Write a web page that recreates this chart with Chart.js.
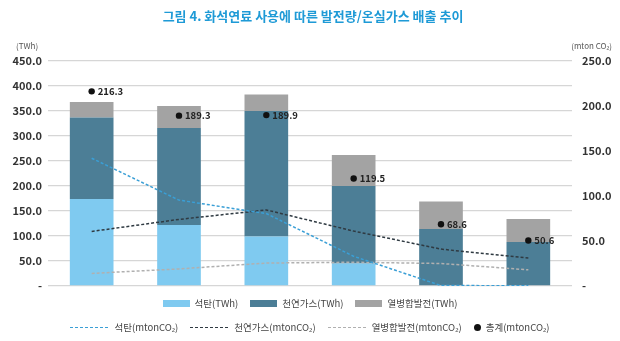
<!DOCTYPE html>
<html>
<head>
<meta charset="utf-8">
<script src="https://cdn.jsdelivr.net/npm/chart.js@4/dist/chart.umd.min.js"></script>
<style>
  html, body { margin:0; padding:0; background:#fff; }
  #wrap { position:relative; width:620px; height:341px; }
  #legend { position:absolute; left:0; top:294px; width:620px; font-family:"Noto Sans CJK KR","Noto Sans",sans-serif; font-size:9.5px; color:#444; }
  .row { display:flex; justify-content:center; align-items:center; height:18px; }
  .row + .row { margin-top:6px; }
  .item { display:flex; align-items:center; margin:0 6px; }
  .box { width:27px; height:7px; margin-right:5px; }
  .dash { width:38px; height:0; border-top:1.5px dashed; margin-right:6px; }
  .dot { width:7px; height:7px; border-radius:50%; background:#111; margin-right:5px; }
</style>
</head>
<body>
<div id="wrap">
  <canvas id="chart" width="620" height="341"></canvas>
  <div id="legend"></div>
</div>
<script>
const categories = ['1', '2', '3', '4', '5', '6'];

// 발전량 (TWh)
const coalTWh = [174, 122, 99, 45, 0, 0];
const gasTWh  = [163, 194, 251, 155, 114, 88];
const chpTWh  = [31, 44, 33, 62, 55, 46];

// 온실가스 배출 (mton CO2)
const coalCO2  = [142.0, 95.4, 80.5, 33.0, 0.5, 0.3];
const gasCO2   = [60.6, 74.0, 84.5, 61.0, 41.0, 31.0];
const chpCO2   = [14.0, 19.0, 25.5, 26.4, 25.0, 18.0];
const totalCO2 = [216.3, 189.3, 189.9, 119.5, 68.6, 50.6];

const leftTicks  = { min: 0, max: 450, step: 50 };
const rightTicks = { min: 0, max: 250, step: 50 };

const C = {
  coal:'#7fcaf0', gas:'#4c7e96', chp:'#a3a3a3',
  coalLine:'#3a9fd6', gasLine:'#2f3a42', chpLine:'#b0b0b0'
};
const FONT = '"Noto Sans CJK KR","Noto Sans",sans-serif';

const fmt = v => v === 0 ? '-' : v.toFixed(1);

// title, unit labels and the total values next to the dots
const extras = {
  id: 'extras',
  afterDatasetsDraw(chart) {
    const { ctx } = chart;
    ctx.save();
    ctx.textBaseline = 'middle';

    ctx.fillStyle = '#1e9ad6';
    ctx.font = `bold 13px ${FONT}`;
    ctx.textAlign = 'center';
    ctx.fillText('그림 4. 화석연료 사용에 따른 발전량/온실가스 배출 추이', 313, 16);

    ctx.fillStyle = '#555';
    ctx.font = `8px ${FONT}`;
    ctx.textAlign = 'left';
    ctx.fillText('(TWh)', 16, 46);
    ctx.textAlign = 'right';
    ctx.fillText('(mton CO₂)', 612, 46);

    const meta = chart.getDatasetMeta(6);
    ctx.fillStyle = '#222';
    ctx.font = `bold 9.5px ${FONT}`;
    ctx.textAlign = 'left';
    meta.data.forEach((pt, i) => {
      ctx.fillText(totalCO2[i].toFixed(1), pt.x + 6, pt.y);
    });
    ctx.restore();
  }
};

const lineDs = (label, data, color) => ({
  type:'line', label, data, yAxisID:'y1', order:1,
  borderColor:color, backgroundColor:color, borderWidth:1.5,
  borderDash:[3,2], pointRadius:0, tension:0, fill:false
});

const chart = new Chart(document.getElementById('chart'), {
  data: {
    labels: categories,
    datasets: [
      { type:'bar', label:'석탄(TWh)',      data:coalTWh, backgroundColor:C.coal, stack:'twh', order:2 },
      { type:'bar', label:'천연가스(TWh)',  data:gasTWh,  backgroundColor:C.gas,  stack:'twh', order:2 },
      { type:'bar', label:'열병합발전(TWh)', data:chpTWh, backgroundColor:C.chp,  stack:'twh', order:2 },
      lineDs('석탄(mtonCO₂)', coalCO2, C.coalLine),
      lineDs('천연가스(mtonCO₂)', gasCO2, C.gasLine),
      lineDs('열병합발전(mtonCO₂)', chpCO2, C.chpLine),
      { type:'line', label:'총계(mtonCO₂)', data:totalCO2, yAxisID:'y1', order:0,
        showLine:false, pointRadius:3.2, pointBackgroundColor:'#111', pointBorderWidth:0 }
    ]
  },
  options: {
    responsive:false,
    animation:false,
    layout: { padding:{ top:61, bottom:47, left:0, right:0 } },
    datasets: { bar: { barPercentage:0.5, categoryPercentage:1.0 } },
    plugins: { legend:{display:false}, tooltip:{enabled:false}, title:{display:false} },
    scales: {
      x: { stacked:true, grid:{display:false}, border:{display:false}, ticks:{display:false} },
      y: {
        stacked:true, position:'left',
        min:leftTicks.min, max:leftTicks.max,
        ticks:{ stepSize:leftTicks.step, callback:fmt, color:'#333', padding:6,
                font:{ family:FONT, size:11, weight:'bold' } },
        grid:{ color:'#d6d6d6', lineWidth:1.3, drawTicks:false },
        border:{ display:false },
        afterFit: s => { s.width = 48; }
      },
      y1: {
        position:'right',
        min:rightTicks.min, max:rightTicks.max,
        ticks:{ stepSize:rightTicks.step, callback:fmt, color:'#333', padding:10,
                font:{ family:FONT, size:11, weight:'bold' } },
        grid:{ display:false, drawTicks:false },
        border:{ display:false },
        afterFit: s => { s.width = 48; }
      }
    }
  },
  plugins:[extras]
});

// legend in two rows, built from the datasets
const legend = document.getElementById('legend');
const rows = [[0,1,2],[3,4,5,6]];
legend.innerHTML = rows.map(r => `<div class="row">${r.map(i => {
  const ds = chart.data.datasets[i];
  let mark;
  if (ds.type === 'bar') mark = `<span class="box" style="background:${ds.backgroundColor}"></span>`;
  else if (ds.showLine === false) mark = `<span class="dot"></span>`;
  else mark = `<span class="dash" style="border-color:${ds.borderColor}"></span>`;
  return `<span class="item">${mark}<span>${ds.label}</span></span>`;
}).join('')}</div>`).join('');
</script>
</body>
</html>
